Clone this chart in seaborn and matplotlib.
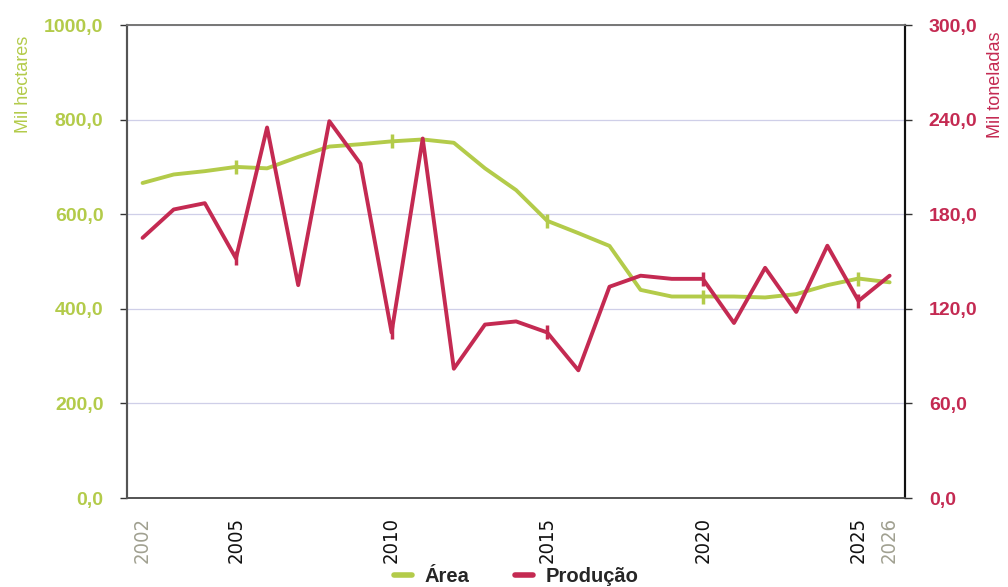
import matplotlib
matplotlib.use("Agg")
import matplotlib.pyplot as plt
from matplotlib import font_manager
import seaborn as sns
import pandas as pd
from matplotlib.lines import Line2D

years = list(range(2002, 2027))
area = [666, 684, 691, 700, 697, 721, 743, 748, 754, 758, 751, 697, 651,
        586, 560, 533, 440, 426, 426, 426, 424, 431, 450, 464, 456]
producao = [165, 183, 187, 152, 235, 135, 239, 212, 105, 228, 82, 110, 112,
            105, 81, 134, 141, 139, 139, 111, 146, 118, 160, 125, 141]
xtick_years = [2002, 2005, 2010, 2015, 2020, 2025, 2026]

GREEN = "#b3cb4a"
RED = "#c42a52"
GRID = "#cfcfe8"

sns.set_theme(style="white")
plt.rcParams['font.family'] = ['Liberation Sans', 'DejaVu Sans']

# narrow font for the year labels, if there is one
cond = font_manager.FontProperties(family="DejaVu Sans", stretch="condensed")
if "condensed" in font_manager.findfont(cond).lower():
    year_font = dict(family="DejaVu Sans", fontstretch="condensed", fontsize=14.5)
else:
    year_font = dict(family="Liberation Sans", fontsize=13.5)

df = pd.DataFrame({"ano": years, "area": area, "producao": producao})
marks = [years.index(y) for y in [2005, 2010, 2015, 2020, 2025]]

fig = plt.figure(figsize=(10.08, 5.87), dpi=100)
ax = fig.add_axes([0.126, 0.1516, 0.772, 0.8058])
ax2 = ax.twinx()

sns.lineplot(data=df, x="ano", y="area", ax=ax, color=GREEN, linewidth=2.8,
             marker="|", markersize=10, markeredgewidth=2.5,
             markeredgecolor=GREEN, markevery=marks)
sns.lineplot(data=df, x="ano", y="producao", ax=ax2, color=RED, linewidth=2.8,
             marker="|", markersize=10, markeredgewidth=2.5,
             markeredgecolor=RED, markevery=marks)

ax.set_xlim(2001.5, 2026.5)
ax.set_ylim(0, 1000)
ax2.set_ylim(0, 300)
ax.set_yticks([0, 200, 400, 600, 800, 1000])
ax2.set_yticks([0, 60, 120, 180, 240, 300])
ax.set_yticklabels([f"{v:.1f}".replace(".", ",") for v in ax.get_yticks()],
                   color=GREEN, fontweight="bold", fontsize=14)
ax2.set_yticklabels([f"{v:.1f}".replace(".", ",") for v in ax2.get_yticks()],
                    color=RED, fontweight="bold", fontsize=14)
ax.yaxis.grid(True, color=GRID, linewidth=0.9)
ax.set_axisbelow(True)

ax.set_xticks(xtick_years)
ax.set_xticklabels([str(y) for y in xtick_years], rotation=90, **year_font)
for lbl, y in zip(ax.get_xticklabels(), xtick_years):
    lbl.set_color("#a0a090" if y in (2002, 2026) else "#111111")
ax.tick_params(axis="x", length=5, width=2.5, color="#111111", pad=9)
for t, y in zip(ax.xaxis.get_major_ticks(), xtick_years):
    if y in (2002, 2026):
        t.tick1line.set_visible(False)
ax.tick_params(axis="y", length=5, width=1, color="#333333", pad=12, left=True)
ax2.tick_params(axis="y", length=5, width=1, color="#333333", pad=12, right=True)

ax.set_xlabel("")
ax.set_ylabel("Mil hectares", color=GREEN, fontsize=13)
ax2.set_ylabel("Mil toneladas", color=RED, fontsize=13, rotation=90)
ax.yaxis.set_label_coords(-0.122, 0.874)
ax2.yaxis.set_label_coords(1.105, 0.874)

for a in (ax, ax2):
    a.spines["left"].set_color("#555555")
    a.spines["bottom"].set_color("#555555")
    a.spines["top"].set_color("#777777")
    a.spines["right"].set_color("#111111")
    a.spines["right"].set_linewidth(1.5)
    a.spines["left"].set_linewidth(1.5)

handles = [Line2D([0], [0], color=GREEN, linewidth=4),
           Line2D([0], [0], color=RED, linewidth=4)]
leg = fig.legend(handles, ["Área", "Produção"], loc="lower center",
                 bbox_to_anchor=(0.512, -0.03), ncol=2, frameon=False,
                 prop={"weight": "bold", "size": 14.5}, handlelength=0.9,
                 handletextpad=0.6, columnspacing=2.3)

fig.savefig("out.png", dpi=100)
